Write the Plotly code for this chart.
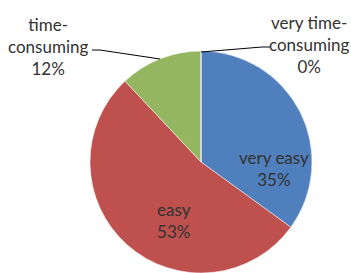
import plotly.graph_objects as go

categories = ["very easy", "easy", "time-consuming", "very time-consuming"]
values = [35, 53, 12, 0]
colors = ["#4F7FBC", "#BE504E", "#95B660", "#8064A2"]

W, H = 351, 273

def px(x):
    return x / W

def py(y):
    return 1 - y / H

fig = go.Figure(go.Pie(
    labels=categories,
    values=values,
    sort=False,
    direction="clockwise",
    rotation=0,
    marker=dict(colors=colors, line=dict(color="white", width=0.5)),
    textinfo="none",
    hoverinfo="label+percent",
    showlegend=False,
    domain=dict(x=[px(90), px(312)], y=[0, py(51)]),
))

def label_text(cat, val, brk):
    name = cat.replace("-", "-<br>") if brk else cat
    return f"{name}<br>{val}%"

# label anchor positions (pixels) for each category
label_pos = [(274, 168, False), (174, 220, False), (48, 46, True), (309, 45, True)]

font = dict(family="Lato", size=17, color="#333333")
for cat, val, (x, y, brk) in zip(categories, values, label_pos):
    fig.add_annotation(
        x=px(x), y=py(y), xref="paper", yref="paper",
        text=label_text(cat, val, brk), showarrow=False,
        xanchor="center", yanchor="middle", align="center", font=font,
    )

# leader lines
leaders = [
    [(92, 50), (100, 50), (160, 59)],
    [(201, 52), (262, 47), (270, 47)],
]
for pts in leaders:
    path = "M " + " L ".join(f"{px(a)},{py(b)}" for a, b in pts)
    fig.add_shape(type="path", path=path, xref="paper", yref="paper",
                  line=dict(color="black", width=1))

fig.update_layout(
    width=W, height=H,
    margin=dict(l=0, r=0, t=0, b=0),
    paper_bgcolor="white", plot_bgcolor="white",
)

fig.write_html(
    "out.html",
    config={"displayModeBar": False},
    post_script="document.body.style.margin='0';document.body.style.overflow='hidden';",
)
